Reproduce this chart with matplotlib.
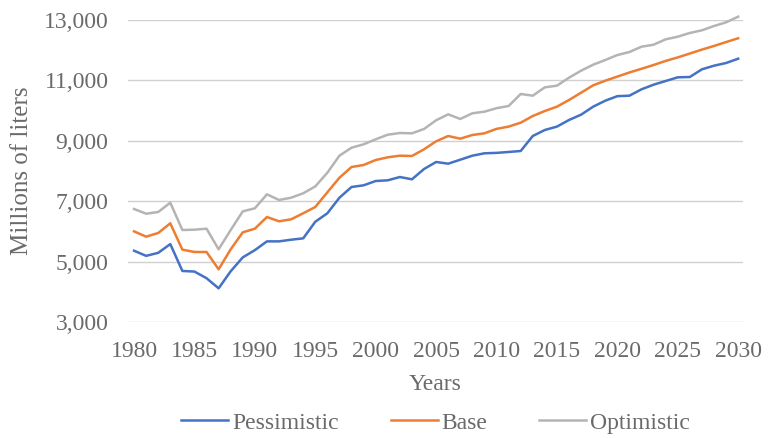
import matplotlib
matplotlib.use("Agg")
import matplotlib.pyplot as plt
from matplotlib.ticker import FuncFormatter, MultipleLocator

years = list(range(1980, 2031))

pessimistic = [5360, 5190, 5290, 5580, 4690, 4670, 4450, 4115, 4680, 5140,
               5380, 5670, 5670, 5725, 5770, 6320, 6600, 7116, 7470, 7526,
               7669, 7692, 7801, 7725, 8066, 8298, 8242, 8374, 8507, 8586,
               8600, 8630, 8662, 9159, 9358, 9470, 9689, 9865, 10130, 10328,
               10478, 10494, 10705, 10858, 10980, 11102, 11113, 11367, 11487, 11576,
               11719]

base = [6002, 5825, 5947, 6268, 5396, 5318, 5318, 4745, 5406, 5970,
        6090, 6477, 6334, 6400, 6600, 6808, 7295, 7778, 8132, 8199,
        8364, 8453, 8507, 8497, 8718, 8983, 9159, 9070, 9192, 9248,
        9395, 9470, 9600, 9821, 9987, 10130, 10351, 10593, 10837, 10990,
        11126, 11262, 11385, 11510, 11645, 11762, 11890, 12020, 12140, 12270,
        12395]

optimistic = [6742, 6586, 6642, 6950, 6046, 6057, 6090, 5406, 6046, 6665,
              6765, 7228, 7040, 7116, 7261, 7490, 7944, 8507, 8772, 8884,
              9050, 9202, 9258, 9248, 9391, 9679, 9877, 9722, 9911, 9964,
              10080, 10152, 10550, 10494, 10771, 10825, 11090, 11322, 11520, 11675,
              11840, 11940, 12116, 12182, 12360, 12447, 12570, 12659, 12801, 12923,
              13110]

y_ticks = [3000, 5000, 7000, 9000, 11000, 13000]
series_names = ["Pessimistic", "Base", "Optimistic"]
colors = ["#4472C4", "#ED7D31", "#B4B4B4"]

plt.rcParams['font.family'] = ['Liberation Serif', 'DejaVu Serif']
text_color = '#6A6A6A'

fig = plt.figure(figsize=(7.68, 4.38), dpi=100)
ax = fig.add_axes([128/768, 1 - 322/438, (743-128)/768, (322-20)/438])

for vals, name, c in zip([pessimistic, base, optimistic], series_names, colors):
    ax.plot(years, vals, color=c, lw=1.8, label=name, solid_joinstyle='round',
            clip_on=False)

ax.set_xlim(1979.5, 2030.4)
ax.set_ylim(3000, 13000)
ax.set_yticks(y_ticks)
ax.xaxis.set_major_locator(MultipleLocator(5))
ax.yaxis.set_major_formatter(FuncFormatter(lambda v, p: f"{int(v):,}"))
ax.grid(axis='y', color='#D0D0D0', lw=1.0)
ax.set_axisbelow(True)
for s in ax.spines.values():
    s.set_visible(False)
ax.tick_params(axis='both', length=0, labelsize=17, colors=text_color)
ax.tick_params(axis='y', pad=14)
ax.tick_params(axis='x', pad=14)

ax.set_xlabel("Years", fontsize=17, color=text_color, labelpad=8)
ax.set_ylabel("Millions of liters", fontsize=18, color=text_color, labelpad=8)

leg = fig.legend(loc='center', bbox_to_anchor=(435.5/768, 1 - 423/438), ncol=3,
                 frameon=False, fontsize=17, handlelength=2.0, columnspacing=2.2,
                 handletextpad=0.15, borderaxespad=0, borderpad=0)
for t in leg.get_texts():
    t.set_color(text_color)

fig.savefig("out.png", dpi=100)
